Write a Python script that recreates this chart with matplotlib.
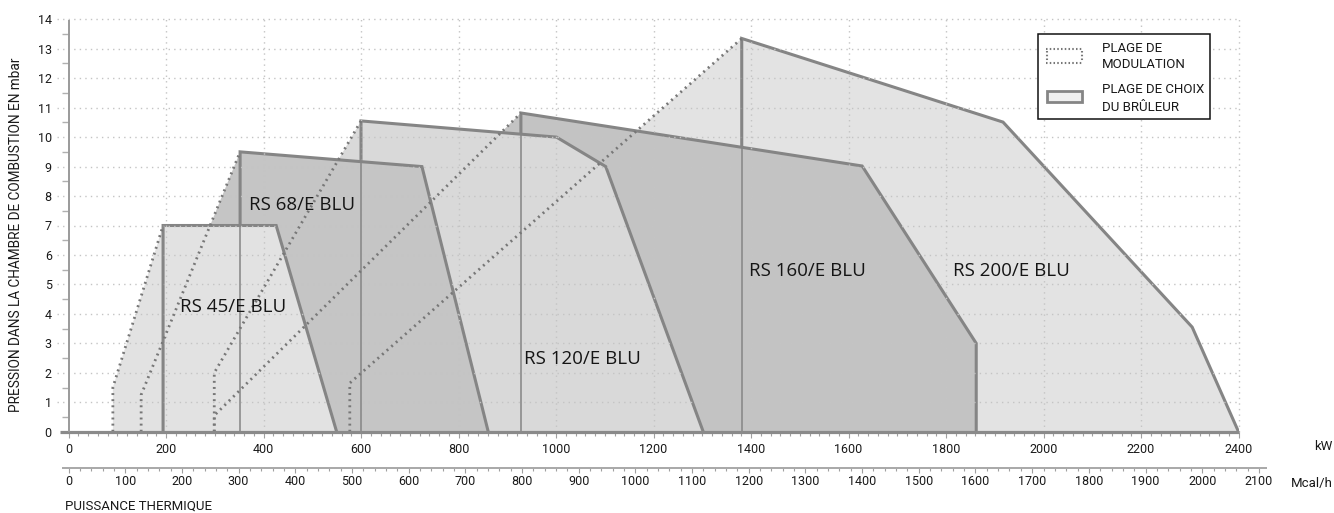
import matplotlib
matplotlib.use("Agg")
import matplotlib.pyplot as plt
from matplotlib.patches import Polygon, Rectangle
from matplotlib.lines import Line2D

plt.rcParams['lines.scale_dashes'] = False

W, H = 1334, 513

# ---------------- data ----------------
kw_ticks = list(range(0, 2401, 200))
mcal_ticks = list(range(0, 2101, 100))
mbar_ticks = list(range(0, 15))

burner_names = ["RS 45/E BLU", "RS 68/E BLU", "RS 120/E BLU", "RS 160/E BLU", "RS 200/E BLU"]

# modulation range (dotted) : kW / mbar
rs45_mod_kw = [91, 91, 194]
rs45_mod_mbar = [0, 1.5, 7.0]
rs68_mod_kw = [149, 149, 352]
rs68_mod_mbar = [0, 1.25, 9.5]
rs120_mod_kw = [299, 299, 600]
rs120_mod_mbar = [0, 2.0, 10.55]
rs160_mod_kw = [299, 299, 928]
rs160_mod_mbar = [0, 0.55, 10.82]
rs200_mod_kw = [577, 577, 1381]
rs200_mod_mbar = [0, 1.65, 13.35]

# burner selection range (solid outline) : kW / mbar
rs45_kw = [194, 194, 426, 550]
rs45_mbar = [0, 7.0, 7.0, 0]
rs68_kw = [352, 352, 725, 861]
rs68_mbar = [0, 9.5, 9.0, 0]
rs120_kw = [600, 600, 1001, 1102, 1302]
rs120_mbar = [0, 10.55, 10.0, 9.0, 0]
rs160_kw = [928, 928, 1628, 1862, 1862]
rs160_mbar = [0, 10.82, 9.02, 3.0, 0]
rs200_kw = [1381, 1381, 1917, 2305, 2400]
rs200_mbar = [0, 13.35, 10.51, 3.55, 0]

# label anchors
label_kw = [337, 480, 1055, 1515, 1935]
label_mbar = [4.24, 7.68, 2.47, 5.47, 5.47]

mod_kw = [rs45_mod_kw, rs68_mod_kw, rs120_mod_kw, rs160_mod_kw, rs200_mod_kw]
mod_mbar = [rs45_mod_mbar, rs68_mod_mbar, rs120_mod_mbar, rs160_mod_mbar, rs200_mod_mbar]
sel_kw = [rs45_kw, rs68_kw, rs120_kw, rs160_kw, rs200_kw]
sel_mbar = [rs45_mbar, rs68_mbar, rs120_mbar, rs160_mbar, rs200_mbar]

# ---------------- style ----------------
fills = ["#e2e2e2", "#c5c5c5", "#d9d9d9", "#c3c3c3", "#e3e3e3"]
edge = "#858585"
dotc = "#777777"
gridc = "#c4c4c4"
NUM_FONT = ["Roboto", "DejaVu Sans"]
TXT_FONT = ["Liberation Sans Narrow", "Roboto", "DejaVu Sans"]
LBL_FONT = ["Open Sans", "DejaVu Sans"]

fig = plt.figure(figsize=(W / 100, H / 100), dpi=100)
fig.patch.set_facecolor("white")

x0px, x1px = 68.5, 1238.5
y0px, y1px = 431.7, 19.3
ax = fig.add_axes([x0px / W, 1 - y0px / H, (x1px - x0px) / W, (y0px - y1px) / H])
ax.set_xlim(0, 2400)
ax.set_ylim(0, 14)
ax.patch.set_visible(False)
for s in ax.spines.values():
    s.set_visible(False)

# polygons, back (RS 200) to front (RS 45)
order = [4, 3, 2, 1, 0]
for k, i in enumerate(order):
    px = list(mod_kw[i]) + list(sel_kw[i][2:])
    py = list(mod_mbar[i]) + list(sel_mbar[i][2:])
    poly = Polygon(list(zip(px, py)), closed=True, facecolor=fills[i],
                   edgecolor="none", zorder=1 + k)
    ax.add_patch(poly)
    ax.plot(sel_kw[i], sel_mbar[i], color=edge, lw=2.2, zorder=1.1 + k,
            solid_joinstyle="miter", solid_capstyle="butt")

# grid
for yv in mbar_ticks[1:]:
    ax.plot([-24, 2400], [yv, yv], color=gridc, lw=1.0, dashes=(1.0, 3.0),
            zorder=6, clip_on=False)
for xv in kw_ticks[1:]:
    ax.plot([xv, xv], [0, 14], color=gridc, lw=1.0, dashes=(1.0, 3.0),
            zorder=6, clip_on=False)

# thin left edges visible through front areas
for i in range(5):
    ax.plot([sel_kw[i][0], sel_kw[i][1]], [0, sel_mbar[i][1]], color=edge,
            lw=1.1, zorder=7, solid_capstyle="butt")

# dotted modulation lines
for i in range(5):
    ax.plot(mod_kw[i], mod_mbar[i], color=dotc, lw=2.0, dashes=(1.4, 3.0),
            zorder=7.5, dash_capstyle="butt")

# axis lines
ax.plot([-17.4, 2400], [0, 0], color="#8a8a8a", lw=2.3, zorder=8,
        clip_on=False, solid_capstyle="butt")
ax.plot([0, 0], [0, 13.97], color="#9a9a9a", lw=1.4, zorder=8,
        clip_on=False, solid_capstyle="butt")

# labels in areas
for i in range(5):
    ax.text(label_kw[i], label_mbar[i], burner_names[i], ha="center", va="center",
            fontsize=13.5, family=LBL_FONT, color="#151515", zorder=9)

# ticks
ax.set_xticks(kw_ticks)
ax.set_xticks([v for v in range(0, 2401, 20) if v % 200], minor=True)
ax.tick_params(axis="x", which="major", direction="out", length=4.5, width=0.8,
               color="#a0a0a0", pad=3.5, labelsize=9)
ax.tick_params(axis="x", which="minor", direction="out", length=3, width=0.8,
               color="#a0a0a0")
ax.set_yticks(mbar_ticks)
ax.set_yticks([v + 0.5 for v in mbar_ticks[:-1]], minor=True)
ax.tick_params(axis="y", which="major", length=0, pad=12, labelsize=9)
ax.tick_params(axis="y", which="minor", direction="out", length=5, width=1.0,
               color="#b0b0b0")
for lab in ax.get_xticklabels() + ax.get_yticklabels():
    lab.set_family(NUM_FONT)
    lab.set_color("#1a1a1a")

# second axis in Mcal/h
ax2 = fig.add_axes([x0px / W, 1 - 468 / H, (2100 / 0.86 * 0.4875) / W, 0.0005])
ax2.set_xlim(0, 2100)
ax2.set_ylim(0, 1)
ax2.patch.set_visible(False)
for s in ax2.spines.values():
    s.set_visible(False)
ax2.set_yticks([])
ax2.set_xticks(mcal_ticks)
ax2.set_xticks([v for v in range(0, 2101, 20) if v % 100], minor=True)
ax2.tick_params(axis="x", which="major", direction="out", length=3.5, width=0.8,
                color="#a0a0a0", pad=1.5, labelsize=9)
ax2.tick_params(axis="x", which="minor", direction="out", length=2.5, width=0.8,
                color="#a0a0a0")
for lab in ax2.get_xticklabels():
    lab.set_family(NUM_FONT)
    lab.set_color("#1a1a1a")
ax2.plot([-12, 2114], [0, 0], color="#a8a8a8", lw=1.4, clip_on=False,
         solid_capstyle="butt")

# unit / axis texts
def fx(p):
    return p / W

def fy(p):
    return 1 - p / H

fig.text(fx(1323), fy(447), "kW", ha="center", va="center", fontsize=9.5,
         family=NUM_FONT, color="#1a1a1a")
fig.text(fx(1312), fy(483), "Mcal/h", ha="center", va="center", fontsize=9.5,
         family=NUM_FONT, color="#1a1a1a")
fig.text(fx(65), fy(506), "PUISSANCE THERMIQUE", ha="left", va="center",
         fontsize=9.5, family=TXT_FONT, color="#1a1a1a")
fig.text(fx(16), fy(235), "PRESSION DANS LA CHAMBRE DE COMBUSTION EN mbar",
         ha="center", va="center", rotation=90, fontsize=9.8, family=TXT_FONT,
         color="#1a1a1a")

# legend (drawn manually)
fig.patches.append(Rectangle((fx(1038.3), fy(119.3)), (1210 - 1038.3) / W,
                             (119.3 - 34) / H, transform=fig.transFigure,
                             facecolor="white", edgecolor="#111111", lw=1.1,
                             zorder=20))
for yy in (49.3, 63.3):
    fig.lines.append(Line2D([fx(1046), fx(1082.7)], [fy(yy), fy(yy)],
                            transform=fig.transFigure, color=dotc, lw=1.5,
                            dashes=(1.1, 1.6), zorder=21))
for xx in (1046.5, 1082.2):
    fig.lines.append(Line2D([fx(xx), fx(xx)], [fy(50.5), fy(62.3)],
                            transform=fig.transFigure, color=dotc, lw=1.5,
                            dashes=(1.1, 1.6), zorder=21))
fig.patches.append(Rectangle((fx(1047), fy(102.2)), (1082 - 1047) / W,
                             (102.2 - 90.5) / H, transform=fig.transFigure,
                             facecolor="#efefef", edgecolor=edge, lw=2.0,
                             zorder=21))
for txt, yy in (("PLAGE DE", 48.3), ("MODULATION", 65.0),
                ("PLAGE DE CHOIX", 89.3), ("DU BRÛLEUR", 107.3)):
    fig.text(fx(1101.7), fy(yy), txt, ha="left", va="center", fontsize=9.5,
             family=TXT_FONT, color="#1a1a1a", zorder=22)

fig.savefig("out.png", dpi=100)
